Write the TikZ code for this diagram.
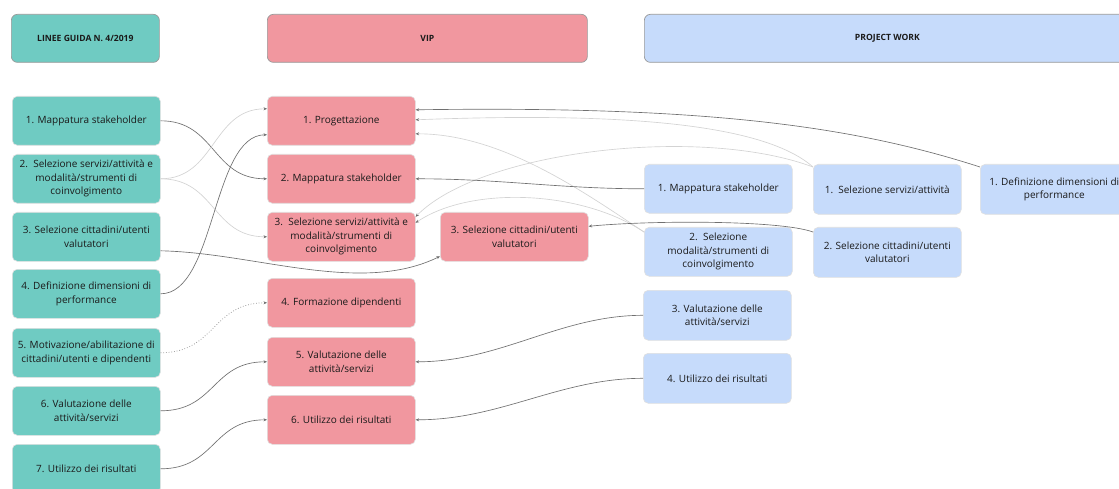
\documentclass[tikz,border=0pt]{standalone}
\usepackage{fontspec}
\setmainfont{Open Sans}
\usetikzlibrary{arrows.meta,calc}
\definecolor{lgfill}{HTML}{6FCBC2}
\definecolor{vipfill}{HTML}{F1979F}
\definecolor{pwfill}{HTML}{C6DBFB}
\definecolor{darkline}{HTML}{707070}
\definecolor{lightline}{HTML}{D3D3D3}
\definecolor{txt}{HTML}{1A1A1A}

\begin{document}
\begin{tikzpicture}[x=1pt,y=1pt,
  card/.style={rounded corners=5pt, minimum width=148pt, minimum height=49pt,
    inner sep=0pt, align=center, anchor=north west, text=txt,
    font=\fontsize{10}{13.5}\selectfont, draw=white!88!black, line width=0.6pt},
  lgbox/.style={card, fill=lgfill},
  vipbox/.style={card, fill=vipfill},
  pwbox/.style={card, fill=pwfill},
  head/.style={rounded corners=6pt, minimum height=48pt, inner sep=0pt,
    anchor=north west, text=txt, draw=black!40, line width=0.7pt,
    font=\fontsize{8.6}{10}\selectfont\bfseries},
  dk/.style={draw=darkline, line width=0.65pt, -{Stealth[length=3.5pt,width=3pt]}},
  lt/.style={draw=lightline, line width=0.65pt, -{Stealth[length=3.5pt,width=3pt,color=darkline]}},
  dt/.style={draw=darkline!85, line width=0.7pt, dotted, -{Stealth[length=3.5pt,width=3pt,color=darkline]}}
]
\useasboundingbox (0,0) rectangle (1119,-489);
\clip (0,0) rectangle (1119,-489);
\fill[white] (0,0) rectangle (1119,-489);

% column headers
\node[head, fill=lgfill, minimum width=148pt] (hLG) at (11,-14) {LINEE GUIDA N. 4/2019};
\node[head, fill=vipfill, minimum width=320pt] (hVIP) at (267,-14) {VIP};
\node[head, fill=pwfill, minimum width=486pt] (hPW) at (644,-14) {PROJECT WORK};

% Linee guida
\node[lgbox] (L1) at (12,-96)  {1. Mappatura stakeholder};
\node[lgbox] (L2) at (12,-154) {2.\ \ Selezione servizi/attività e\\modalità/strumenti di\\coinvolgimento};
\node[lgbox] (L3) at (12,-212) {3. Selezione cittadini/utenti\\valutatori};
\node[lgbox] (L4) at (12,-269) {4. Definizione dimensioni di\\performance};
\node[lgbox] (L5) at (12,-328) {5. Motivazione/abilitazione di\\cittadini/utenti e dipendenti};
\node[lgbox] (L6) at (12,-386) {6. Valutazione delle\\attività/servizi};
\node[lgbox] (L7) at (12,-444) {7. Utilizzo dei risultati};

% VIP
\node[vipbox] (P1)  at (267,-96)  {1. Progettazione};
\node[vipbox] (P2)  at (267,-154) {2. Mappatura stakeholder};
\node[vipbox] (P3)  at (267,-212) {3.\ \ Selezione servizi/attività e\\modalità/strumenti di\\coinvolgimento};
\node[vipbox] (P3b) at (440,-212) {3. Selezione cittadini/utenti\\valutatori};
\node[vipbox] (P4)  at (267,-278) {4. Formazione dipendenti};
\node[vipbox] (P5)  at (267,-337) {5. Valutazione delle\\attività/servizi};
\node[vipbox] (P6)  at (267,-395) {6. Utilizzo dei risultati};

% Project work
\node[pwbox] (B1map) at (644,-164) {1. Mappatura stakeholder};
\node[pwbox] (B2mod) at (644,-227) {2.\ \ Selezione\\modalità/strumenti di\\coinvolgimento};
\node[pwbox, minimum height=50pt] (B3) at (643,-290) {3. Valutazione delle\\attività/servizi};
\node[pwbox, minimum height=50pt] (B4) at (643,-353) {4. Utilizzo dei risultati};
\node[pwbox, minimum height=50pt] (B1sel) at (813,-164) {1.\ \ Selezione servizi/attività};
\node[pwbox, minimum height=50pt] (B2sel) at (813,-227) {2. Selezione cittadini/utenti\\valutatori};
\node[pwbox, minimum height=50pt] (BDef) at (980,-164) {1. Definizione dimensioni di\\performance};

% Linee guida -> VIP
\draw[dk] (L1.east) .. controls +(55,0) and +(-55,0) .. (P2.west);
\draw[lt] (L2.east) .. controls +(55,0) and +(-55,0) .. ([yshift=12pt]P1.west);
\draw[lt] (L2.east) .. controls +(55,0) and +(-55,0) .. (P3.west);
\draw[dk] ([yshift=-14pt]L3.east) .. controls +(95,-2) and +(-80,-39) .. ([yshift=-19.5pt]P3b.west);
\draw[dk] (L4.east) .. controls +(55,0) and +(-55,0) .. ([yshift=-14pt]P1.west);
\draw[dt] (L5.east) .. controls +(55,0) and +(-55,0) .. (P4.west);
\draw[dk] (L6.east) .. controls +(55,0) and +(-55,0) .. (P5.west);
\draw[dk] (L7.east) .. controls +(55,0) and +(-55,0) .. (P6.west);

% Project work -> VIP
\draw[dk] ([yshift=-3pt]BDef.north west) .. controls +(-130,42) and +(285,4) .. ([yshift=11pt]P1.east);
\draw[lt] ([yshift=-3pt]B1sel.north west) .. controls +(-53,47) and +(185,7) .. ([yshift=1pt]P1.east);
\draw[lt] ([yshift=-3pt]B1sel.north west) .. controls +(-113,42) and +(65,66) .. ([yshift=20pt]P3.east);
\draw[lt] ([yshift=-5pt]B2mod.north west) .. controls +(-63,42) and +(85,0) .. ([yshift=-13pt]P1.east);
\draw[lt] ([yshift=-5pt]B2mod.north west) .. controls +(-63,42) and +(55,37) .. ([yshift=14pt]P3.east);
\draw[dk] (B1map.west) .. controls +(-84,0) and +(85,0) .. (P2.east);
\draw[dk] ([yshift=-5pt]B2sel.north west) .. controls +(-33,12) and +(62,6) .. ([yshift=10.5pt]P3b.east);
\draw[dk] (B3.west) .. controls +(-83,0) and +(85,0) .. (P5.east);
\draw[dk] (B4.west) .. controls +(-83,0) and +(85,0) .. (P6.east);
\end{tikzpicture}
\end{document}
